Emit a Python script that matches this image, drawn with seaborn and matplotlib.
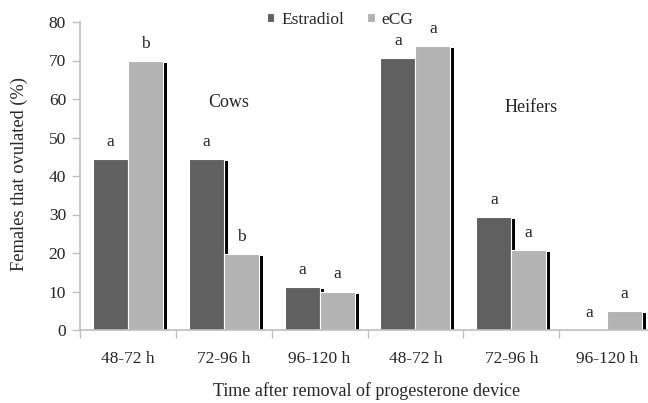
import pandas as pd
import seaborn as sns
import matplotlib.pyplot as plt
from matplotlib.patches import Rectangle
from matplotlib.transforms import ScaledTranslation

# data
intervals = ["48-72 h", "72-96 h", "96-120 h"]
animals = ["Cows", "Heifers"]
treatments = ["Estradiol", "eCG"]
estradiol = [44.4, 44.4, 11.1, 70.6, 29.3, 0.0]
ecg = [69.8, 19.8, 10.0, 73.8, 20.8, 5.0]
letters_estradiol = ["a", "a", "a", "a", "a", "a"]
letters_ecg = ["b", "b", "a", "a", "a", "a"]

slots = [f"{a} {i}" for a in animals for i in intervals]
df = pd.DataFrame({
    "slot": slots * 2,
    "treatment": ["Estradiol"] * 6 + ["eCG"] * 6,
    "pct": estradiol + ecg,
})

sns.set_style("white")
plt.rcParams["font.family"] = ["Liberation Serif", "DejaVu Serif"]

fig = plt.figure(figsize=(6.48, 4.03), dpi=100)
ax = fig.add_axes([80 / 648, 73 / 403, 575 / 648, 308 / 403])

sns.barplot(data=df, x="slot", y="pct", hue="treatment", order=slots,
            hue_order=treatments, palette=["#606060", "#b3b3b3"],
            width=0.73, edgecolor="white", linewidth=0.8, ax=ax)

# black drop shadow behind each bar (excel 3d look)
off = ScaledTranslation(4 / 100, -2 / 100, fig.dpi_scale_trans)
bars = [p for p in ax.patches if isinstance(p, Rectangle) and p.get_height() > 0]
for p in bars:
    sh = Rectangle(p.get_xy(), p.get_width(), p.get_height(),
                   facecolor="black", edgecolor="none",
                   transform=ax.transData + off, zorder=p.get_zorder() - 0.1)
    ax.add_patch(sh)

# significance letters
n = len(slots)
for k, cont in enumerate(ax.containers):
    letters = letters_estradiol if k == 0 else letters_ecg
    for j, rect in enumerate(cont):
        xc = rect.get_x() + rect.get_width() / 2
        ax.text(xc, rect.get_height() + 2.4, letters[j], ha="center",
                va="bottom", fontsize=12.5)

ax.text(1.05, 59, "Cows", ha="center", va="center", fontsize=13)
ax.text(4.21, 57.7, "Heifers", ha="center", va="center", fontsize=13)

ax.set_xlim(-0.5, n - 0.5)
ax.set_ylim(0, 80)
ax.set_yticks(range(0, 81, 10))
ax.set_xticks(range(n))
ax.set_xticklabels(intervals * 2)
ax.set_xticks([x - 0.5 for x in range(n)], minor=True)
ax.tick_params(axis="x", which="major", length=0, pad=15, labelsize=12.5)
ax.tick_params(axis="x", which="minor", length=6, width=1, color="#bfbfbf", direction="out", bottom=True)
ax.tick_params(axis="y", length=6, width=1, color="#bfbfbf", direction="out", left=True, pad=4, labelsize=12.5)

for s in ["top", "right"]:
    ax.spines[s].set_visible(False)
for s in ["left", "bottom"]:
    ax.spines[s].set_color("#bfbfbf")
    ax.spines[s].set_linewidth(1.2)

ax.set_xlabel("")
ax.set_ylabel("")
fig.text(367 / 648, 1 - 391 / 403, "Time after removal of progesterone device",
         ha="center", va="center", fontsize=13)
fig.text(19 / 648, 1 - 174 / 403, "Females that ovulated (%)",
         ha="center", va="center", rotation=90, fontsize=13.2)

sns.move_legend(ax, loc="center", bbox_to_anchor=(340 / 648, 1 - 20 / 403),
                bbox_transform=fig.transFigure, ncol=2, frameon=False,
                title=None, fontsize=12.5, handlelength=0.45, handleheight=0.45,
                handletextpad=0.4, columnspacing=1.3)

fig.savefig("out.png", dpi=100)
